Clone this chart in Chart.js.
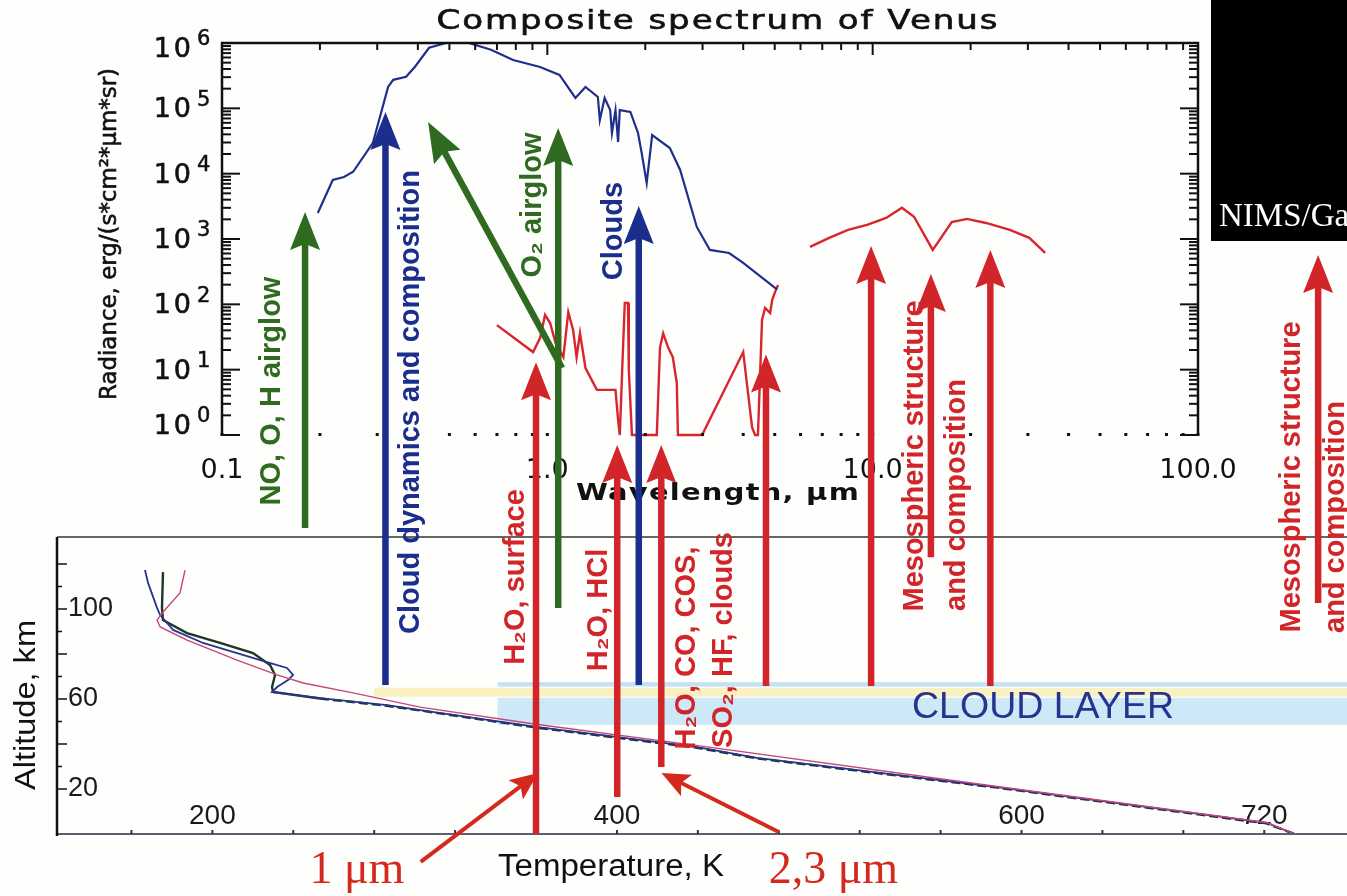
<!DOCTYPE html>
<html>
<head>
<meta charset="utf-8">
<script src="https://cdn.jsdelivr.net/npm/chart.js@4.4.1/dist/chart.umd.min.js"></script>
<style>
  html, body { margin: 0; padding: 0; background: #fefefc; overflow: hidden; }
  #wrap { position: relative; width: 1347px; height: 896px; }
  canvas { position: absolute; left: 0; top: 0; }
</style>
</head>
<body>
<div id="wrap">
  <canvas id="profile" width="1347" height="896"></canvas>
  <canvas id="spectrum" width="1347" height="896"></canvas>
</div>
<script>
// --- top panel: composite spectrum (wavelength in um, radiance) ---
const dayWl  = [0.197, 0.219, 0.237, 0.253, 0.291, 0.324, 0.336, 0.368, 0.392, 0.433, 0.488, 0.574, 0.671, 0.785,
                0.95, 1.09, 1.22, 1.31, 1.43, 1.45, 1.50, 1.56, 1.58, 1.62, 1.65, 1.67, 1.80, 1.90, 1.95, 2.02,
                2.10, 2.38, 2.56, 2.88, 3.16, 3.62, 4.0, 5.08];
const dayRad = [2500, 8000, 8900, 10700, 29600, 213000, 273000, 304000, 433000, 845000, 1000000, 1000000, 790000, 550000,
                430000, 324000, 144000, 212000, 149000, 66000, 144000, 94000, 42000, 94000, 30500, 94000, 88000, 42000, 20700, 7200,
                39000, 24700, 11400, 1530, 680, 610, 430, 170];

const nightWl  = [0.70, 0.904, 0.95, 0.984, 1.02, 1.06, 1.12, 1.16, 1.20, 1.23, 1.26, 1.31, 1.42, 1.62, 1.65, 1.67,
                  1.70, 1.73, 1.77, 1.78, 1.82, 2.17, 2.22, 2.27, 2.35, 2.43, 2.50, 2.52, 2.99, 4.0, 4.26, 4.35, 4.44,
                  4.57, 4.67, 4.84, 4.91, 5.01, 5.12];
const nightRad = [48, 18.6, 30.5, 68.7, 51.8, 25.6, 15.6, 76, 40.5, 15.6, 36.4, 10.6, 4.9, 4.9, 1.7, 1,
                  11, 105, 105, 9.9, 1, 1, 22, 36, 22, 15.6, 6.3, 1, 1, 18.6, 1.3, 1, 1,
                  57.5, 88, 73.6, 116, 154, 198];

const mesoWl  = [6.42, 7.35, 8.40, 9.61, 11.0, 12.3, 13.4, 15.3, 17.5, 19.5, 22.3, 26.4, 30.3, 33.9];
const mesoRad = [759, 1040, 1380, 1640, 2100, 3000, 2190, 680, 1820, 2030, 1760, 1380, 1040, 615];

const wlTicks = [0.1, 1, 10, 100];
const wlTickLabels = ['0.1', '1.0', '10.0', '100.0'];
const radDecades = [0, 1, 2, 3, 4, 5, 6];

// --- bottom panel: temperature profiles (K, km) ---
const blueT   = [166.7, 168.2, 172.7, 174.2, 180.6, 195.4, 212.2, 227, 236.9, 239.9, 237.4, 232, 229.5,
                 253.2, 286.3, 302.7, 360, 439, 469.2, 586.9, 721.3, 735];
const blueAlt = [117.3, 111.6, 100.4, 97.3, 90.7, 84.9, 80.4, 76.4, 73.8, 70.7, 68.4, 65.3, 63.1,
                 60.4, 57.3, 55.1, 47.6, 38.7, 33.8, 20.9, 4.9, 0];
const darkT   = [175.6, 175.1, 175.6, 187.5, 203.8, 220.1, 228.5, 231, 229.5, 230, 253.2, 286.3, 302.7,
                 360, 439, 470, 587, 721, 735];
const darkAlt = [116.4, 100.4, 95.1, 89.3, 84.9, 80.4, 75.1, 70.7, 65.3, 63.1, 60.2, 57.0, 54.9,
                 47.3, 38.4, 33.5, 20.7, 4.7, 0];
const redT    = [186.5, 184, 175.6, 172.7, 174.2, 187.5, 212.2, 232, 244.9, 269.5, 302.7, 360, 439, 587, 721, 735];
const redAlt  = [117.3, 107.1, 98.7, 95.1, 92, 86.2, 77.3, 70.7, 67.1, 62.7, 56.4, 48.8, 39.4, 21.2, 5.1, 0];

const tempTicks = [200, 400, 600, 720];
const altTicks = [20, 60, 100];
const cloudStartT = 341, hazeStartT = 280;
const cloudTopAlt = [65.5, 67.5];
const hazeAlt = [61, 65];
const cloudAlt = [48.5, 60.5];

const GREEN = '#2e6a20', BLUE = '#1b2d8d', RED = '#d2252a';

// wavelength (um), radiance at the tip, altitude (km) at the tail
const arrows = [
  { wl: 0.18,  tip: 2600,  tail: 136,   color: GREEN },
  { wl: 0.318, tip: 88000, tail: 66.2,  color: BLUE },
  { wl: 1.08,  tip: 50000, tail: 100.4, color: GREEN },
  { wl: 1.91,  tip: 3200,  tail: 66.2,  color: BLUE },
  { wl: 0.923, tip: 13,    tail: 0,     color: RED },
  { wl: 1.64,  tip: 0.7,   tail: 16.4,  color: RED },
  { wl: 2.24,  tip: 0.7,   tail: 29.8,  color: RED },
  { wl: 4.70,  tip: 17,    tail: 65.8,  color: RED },
  { wl: 9.89,  tip: 780,   tail: 65.8,  color: RED },
  { wl: 15.1,  tip: 290,   tail: 123,   color: RED },
  { wl: 23.0,  tip: 680,   tail: 65.8,  color: RED },
  { wl: 234,   tip: 570,   tail: 102.7, color: RED }
];
const diagonal = { from: [1.11, 10.6], to: [0.43, 62000], color: GREEN };

const arrowLabels = [
  { text: 'NO, O, H airglow', wl: 0.18, dx: -33, y: 391, color: GREEN },
  { text: 'Cloud dynamics and composition', wl: 0.318, dx: 26, y: 402, color: BLUE },
  { text: 'O₂ airglow', wl: 1.08, dx: -25, y: 205, color: GREEN },
  { text: 'Clouds', wl: 1.91, dx: -25, y: 231, color: BLUE },
  { text: 'H₂O, surface', wl: 0.923, dx: -20, y: 577, color: RED },
  { text: 'H₂O, HCl', wl: 1.64, dx: -18, y: 610, color: RED },
  { text: 'H₂O, CO, COS,', wl: 2.24, dx: 26, y: 648, color: RED },
  { text: 'SO₂, HF, clouds', wl: 2.24, dx: 63, y: 640, color: RED },
  { text: 'Mesospheric structure', wl: 15.1, dx: -16, y: 456, color: RED },
  { text: 'and composition', wl: 15.1, dx: 26, y: 495, color: RED },
  { text: 'Mesospheric structure', wl: 234, dx: -26, y: 477, color: RED },
  { text: 'and composition', wl: 234, dx: 18, y: 517, color: RED }
];

// pointers in (K, km) of the bottom panel
const pointers = [
  { label: '1 μm',   textT: 248, textAlt: -21.8, from: [303, -12.4], to: [361, 27.1] },
  { label: '2,3 μm', textT: 475, textAlt: -21.8, from: [480, 0.9],   to: [422, 27.1] }
];

function pts(xs, ys) { return xs.map((x, i) => ({ x: x, y: ys[i] })); }

function text(ctx, str, x, y, o) {
  ctx.save();
  ctx.translate(x, y);
  if (o.rot) ctx.rotate(o.rot);
  ctx.font = o.font;
  ctx.fillStyle = o.color || '#111';
  ctx.textAlign = o.align || 'center';
  ctx.textBaseline = o.baseline || 'middle';
  if (o.ls) ctx.letterSpacing = o.ls + 'px';
  if (o.width) ctx.scale(o.width / ctx.measureText(str).width, 1);
  ctx.fillText(str, 0, 0);
  if (o.stroke) { ctx.strokeStyle = ctx.fillStyle; ctx.lineWidth = o.stroke; ctx.strokeText(str, 0, 0); }
  ctx.restore();
}

function arrow(ctx, x1, y1, x2, y2, color, w, headL, headW) {
  const ang = Math.atan2(y2 - y1, x2 - x1), c = Math.cos(ang), s = Math.sin(ang);
  const bx = x2 - c * headL, by = y2 - s * headL;
  ctx.save();
  ctx.strokeStyle = color; ctx.fillStyle = color; ctx.lineWidth = w;
  ctx.beginPath(); ctx.moveTo(x1, y1); ctx.lineTo(bx + c * 8, by + s * 8); ctx.stroke();
  ctx.beginPath();
  ctx.moveTo(x2, y2);
  ctx.lineTo(bx + s * headW / 2, by - c * headW / 2);
  ctx.lineTo(bx + c * 6, by + s * 6);
  ctx.lineTo(bx - s * headW / 2, by + c * headW / 2);
  ctx.closePath(); ctx.fill();
  ctx.restore();
}

function seg(ctx, x1, y1, x2, y2) { ctx.beginPath(); ctx.moveTo(x1, y1); ctx.lineTo(x2, y2); ctx.stroke(); }

// ---------- bottom panel ----------
const profileDecor = {
  id: 'profileDecor',
  beforeDatasetsDraw(chart) {
    const ctx = chart.ctx, a = chart.chartArea, xs = chart.scales.x, ys = chart.scales.y;
    const band = (t0, alts, color) => {
      const x0 = xs.getPixelForValue(t0), yTop = ys.getPixelForValue(alts[1]), yBot = ys.getPixelForValue(alts[0]);
      ctx.fillStyle = color;
      ctx.fillRect(x0, yTop, a.right - x0, yBot - yTop);
    };
    ctx.save();
    band(cloudStartT, cloudTopAlt, 'rgba(185,222,242,0.85)');
    band(hazeStartT, hazeAlt, 'rgba(250,240,188,0.9)');
    band(cloudStartT, cloudAlt, 'rgba(200,230,246,0.9)');
    ctx.restore();
  },
  afterDraw(chart) {
    const ctx = chart.ctx, a = chart.chartArea, xs = chart.scales.x, ys = chart.scales.y;
    ctx.save();
    ctx.strokeStyle = '#333'; ctx.lineWidth = 1.5;
    seg(ctx, a.left, a.top, a.right, a.top);
    ctx.strokeStyle = '#5a6070'; ctx.lineWidth = 2;
    seg(ctx, a.left, a.bottom, a.right, a.bottom);
    ctx.strokeStyle = '#111'; ctx.lineWidth = 2.5;
    seg(ctx, a.left, a.top, a.left, a.bottom + 2);
    ctx.lineWidth = 1.5;
    for (let h = 20; h <= 120; h += 10) {
      const y = ys.getPixelForValue(h);
      seg(ctx, a.left, y, a.left + (h % 20 === 0 ? 10 : 5), y);
    }
    ctx.strokeStyle = '#333'; ctx.lineWidth = 2;
    for (let t = 160; t <= 720; t += 40) {
      const x = xs.getPixelForValue(t);
      seg(ctx, x, a.bottom, x, a.bottom - 4);
    }
    ctx.restore();
    text(ctx, 'CLOUD LAYER', 1043, 708, { font: '37px "Liberation Sans"', color: '#27348f', width: 262 });
    text(ctx, 'Temperature, K', 611, 867, { font: '31px "Liberation Sans"', color: '#111', width: 226 });
    text(ctx, 'Altitude, km', 27, 705, { font: '30px "Liberation Sans"', color: '#111', width: 170, rot: -Math.PI / 2 });
  }
};

const profileChart = new Chart(document.getElementById('profile'), {
  type: 'scatter',
  data: {
    datasets: [
      { data: pts(redT, redAlt), showLine: true, borderColor: '#c8457c', borderWidth: 1.4, pointRadius: 0 },
      { data: pts(blueT, blueAlt), showLine: true, borderColor: '#25348f', borderWidth: 1.8, pointRadius: 0 },
      { data: pts(darkT, darkAlt), showLine: true, borderColor: '#1d3626', borderWidth: 2.4, pointRadius: 0,
        segment: { borderDash: c => (c.p0.parsed.y < 62 ? [9, 4] : undefined) } }
    ]
  },
  options: {
    responsive: false,
    animation: false,
    layout: { padding: { left: 0, right: 0, top: 537, bottom: 0 } },
    plugins: { legend: { display: false }, tooltip: { enabled: false } },
    scales: {
      x: {
        type: 'linear', min: 123.2, max: 760.9,
        grid: { display: false }, border: { display: false },
        afterBuildTicks: s => { s.ticks = tempTicks.map(v => ({ value: v })); },
        afterFit: s => { s.height = 62; },
        ticks: { autoSkip: false, maxRotation: 0, mirror: true, padding: 1, color: '#1a1a1a',
                 font: { family: 'Liberation Sans', size: 28 } }
      },
      y: {
        type: 'linear', min: 0, max: 132,
        grid: { display: false }, border: { display: false },
        afterBuildTicks: s => { s.ticks = altTicks.map(v => ({ value: v })); },
        afterFit: s => { s.width = 57; },
        ticks: { mirror: true, padding: 11, color: '#1a1a1a', font: { family: 'Liberation Sans', size: 27 } }
      }
    }
  },
  plugins: [profileDecor]
});

// ---------- top panel ----------
const spectrumDecor = {
  id: 'spectrumDecor',
  afterDraw(chart) {
    const ctx = chart.ctx, a = chart.chartArea, xs = chart.scales.x, ys = chart.scales.y;
    const ts = profileChart.scales.x, hs = profileChart.scales.y;

    // frame and inward ticks
    ctx.save();
    ctx.strokeStyle = '#111'; ctx.fillStyle = '#111'; ctx.lineWidth = 2.5;
    ctx.beginPath();
    ctx.moveTo(a.left, a.bottom); ctx.lineTo(a.left, a.top); ctx.lineTo(a.right, a.top); ctx.lineTo(a.right, a.bottom);
    ctx.stroke();
    ctx.lineWidth = 2;
    radDecades.forEach(e => {
      for (let k = 1; k <= 9; k++) {
        if (e === 6 && k > 1) break;
        const y = ys.getPixelForValue(k * Math.pow(10, e));
        const len = k === 1 ? 18 : 9;
        seg(ctx, a.left, y, a.left + len, y);
        seg(ctx, a.right, y, a.right - len, y);
      }
    });
    for (let e = -1; e <= 2; e++) {
      for (let k = 1; k <= 9; k++) {
        if (e === 2 && k > 1) break;
        const x = xs.getPixelForValue(k * Math.pow(10, e));
        seg(ctx, x, a.top, x, a.top + (k === 1 ? 12 : 7));
        ctx.fillRect(x - 1.5, a.bottom - 2, 3, 3);
      }
    }
    ctx.restore();

    radDecades.forEach(e => {
      const y = Math.min(Math.max(ys.getPixelForValue(Math.pow(10, e)) + 2, 50), 427);
      text(ctx, '10', 194, y, { font: '27px "DejaVu Sans"', align: 'right', ls: 3, stroke: 0.6 });
      text(ctx, String(e), 197, y - 10, { font: '21px "DejaVu Sans"', align: 'left', stroke: 0.5 });
    });

    text(ctx, 'Composite spectrum of Venus', 718, 22, { font: '26px "DejaVu Sans"', width: 563, ls: 1.5, stroke: 0.6 });
    text(ctx, 'Radiance, erg/(s*cm²*μm*sr)', 110, 234, { font: '23px "DejaVu Sans"', width: 332, rot: -Math.PI / 2, stroke: 0.6 });
    text(ctx, 'Wavelength, μm', 718, 494, { font: 'bold 23px "DejaVu Sans"', width: 284, ls: 1 });

    // arrows
    const d = diagonal;
    arrow(ctx, xs.getPixelForValue(d.from[0]), ys.getPixelForValue(d.from[1]),
          xs.getPixelForValue(d.to[0]), ys.getPixelForValue(d.to[1]), d.color, 6.5, 40, 30);
    arrows.forEach(r => {
      const x = xs.getPixelForValue(r.wl);
      arrow(ctx, x, hs.getPixelForValue(r.tail), x, ys.getPixelForValue(r.tip), r.color, 6.5, 38, 30);
    });
    arrowLabels.forEach(l => {
      text(ctx, l.text, xs.getPixelForValue(l.wl) + l.dx, l.y,
           { font: 'bold 29px "Liberation Sans"', color: l.color, rot: -Math.PI / 2 });
    });

    pointers.forEach(p => {
      arrow(ctx, ts.getPixelForValue(p.from[0]), hs.getPixelForValue(p.from[1]),
            ts.getPixelForValue(p.to[0]), hs.getPixelForValue(p.to[1]), '#d42a1e', 4, 28, 24);
      text(ctx, p.label, ts.getPixelForValue(p.textT), hs.getPixelForValue(p.textAlt),
           { font: '46px "Liberation Serif"', color: '#d42a1e', align: 'left', baseline: 'alphabetic' });
    });

    // credit box
    ctx.save();
    ctx.fillStyle = '#000';
    ctx.fillRect(1211, 0, 136, 241);
    ctx.restore();
    text(ctx, 'NIMS/Ga', 1219, 226, { font: '33px "Liberation Serif"', color: '#fff', align: 'left', baseline: 'alphabetic' });
  }
};

new Chart(document.getElementById('spectrum'), {
  type: 'scatter',
  data: {
    datasets: [
      { data: pts(dayWl, dayRad), showLine: true, borderColor: '#1f2f8c', borderWidth: 2.2, pointRadius: 0 },
      { data: pts(nightWl, nightRad), showLine: true, borderColor: '#d8262c', borderWidth: 2.4, pointRadius: 0, clip: 4 },
      { data: pts(mesoWl, mesoRad), showLine: true, borderColor: '#d8262c', borderWidth: 2.4, pointRadius: 0 }
    ]
  },
  options: {
    responsive: false,
    animation: false,
    layout: { padding: { left: 92, right: 149, top: 43, bottom: 416 } },
    plugins: { legend: { display: false }, tooltip: { enabled: false } },
    scales: {
      x: {
        type: 'logarithmic', min: 0.1, max: 100,
        grid: { display: false }, border: { display: false },
        afterBuildTicks: s => { s.ticks = wlTicks.map(v => ({ value: v })); },
        afterFit: s => { s.height = 45; },
        ticks: { autoSkip: false, maxRotation: 0, padding: 12, color: '#111',
                 font: { family: 'DejaVu Sans', size: 27 },
                 callback: (v, i) => wlTickLabels[i] }
      },
      y: {
        type: 'logarithmic', min: 1, max: 1000000,
        grid: { display: false }, border: { display: false },
        ticks: { display: false },
        afterFit: s => { s.width = 130; }
      }
    }
  },
  plugins: [spectrumDecor]
});
</script>
</body>
</html>
